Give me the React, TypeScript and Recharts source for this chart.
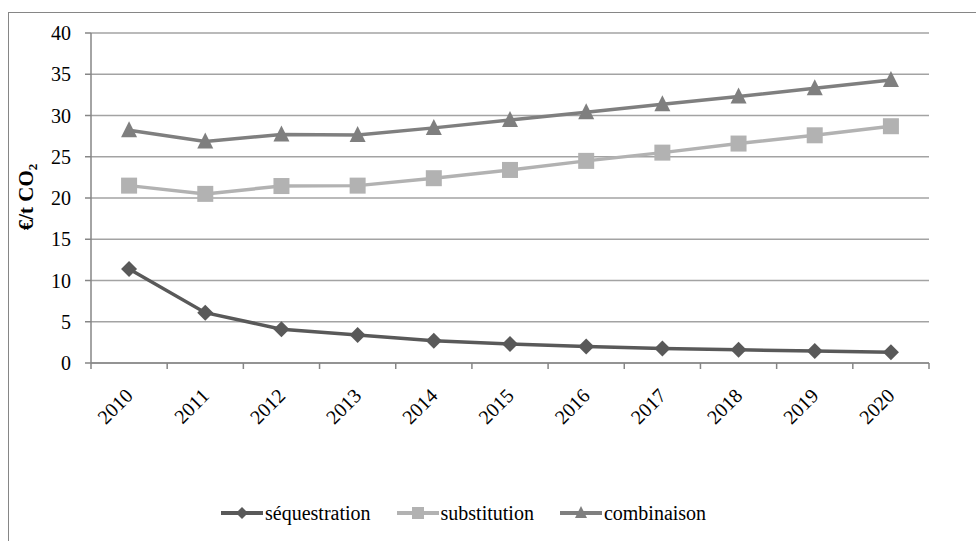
import React from 'react';
import { LineChart, Line, XAxis, YAxis, CartesianGrid } from 'recharts';

// values (€/t CO2)
const years = ['2010', '2011', '2012', '2013', '2014', '2015', '2016', '2017', '2018', '2019', '2020'];
const sequestration = [11.4, 6.1, 4.1, 3.4, 2.7, 2.3, 2.0, 1.75, 1.6, 1.45, 1.3];
const substitution = [21.5, 20.5, 21.45, 21.5, 22.4, 23.4, 24.5, 25.5, 26.6, 27.6, 28.7];
const combinaison = [28.2, 26.85, 27.7, 27.65, 28.5, 29.45, 30.4, 31.35, 32.3, 33.3, 34.3];
const yTicks = [0, 5, 10, 15, 20, 25, 30, 35, 40];

const FONT = '"Liberation Serif", "DejaVu Serif", "Times New Roman", serif';
const AXIS = '#868686';
const GRID = '#a3a3a3';

const W = 976;
const H = 541;
const margin = { top: 33, right: 47, left: 0, bottom: 118 };
const Y_AXIS_W = 91;
const PLOT_W = W - Y_AXIS_W - margin.right;
const BAND = PLOT_W / years.length;

const series = [
  { key: 'sequestration', name: 'séquestration', color: '#595959', shape: 'diamond' },
  { key: 'substitution', name: 'substitution', color: '#b2b2b2', shape: 'square' },
  { key: 'combinaison', name: 'combinaison', color: '#7f7f7f', shape: 'triangle' },
];

const data = years.map((year, i) => ({
  year,
  sequestration: sequestration[i],
  substitution: substitution[i],
  combinaison: combinaison[i],
}));

const Marker = ({ shape, cx, cy, size, color }: any) => {
  const r = size / 2;
  if (shape === 'diamond') {
    return <polygon points={`${cx},${cy - r} ${cx + r},${cy} ${cx},${cy + r} ${cx - r},${cy}`} fill={color} />;
  }
  if (shape === 'square') {
    return <rect x={cx - r} y={cy - r} width={size} height={size} fill={color} />;
  }
  return <polygon points={`${cx},${cy - r - 1} ${cx + r},${cy + r - 1} ${cx - r},${cy + r - 1}`} fill={color} />;
};

const makeDot = (shape: string, color: string, size: number) => (props: any) => {
  if (props.cx == null || props.cy == null) return <g key={props.index} />;
  return (
    <g key={`${shape}-${props.index}`}>
      <Marker shape={shape} cx={props.cx} cy={props.cy} size={size} color={color} />
    </g>
  );
};

const XTick = (props: any) => {
  const { x, y, payload, index } = props;
  const tx = x + 5;
  const ty = y + 34;
  return (
    <g>
      <line x1={x - BAND / 2} x2={x - BAND / 2} y1={y} y2={y + 6} stroke={AXIS} strokeWidth={1.5} />
      {index === years.length - 1 && (
        <line x1={x + BAND / 2} x2={x + BAND / 2} y1={y} y2={y + 6} stroke={AXIS} strokeWidth={1.5} />
      )}
      <text
        x={tx}
        y={ty}
        transform={`rotate(-45 ${tx} ${ty})`}
        textAnchor="end"
        fontSize={20}
        fontFamily={FONT}
        fill="#000"
      >
        {payload.value}
      </text>
    </g>
  );
};

const YLabel = () => (
  <text
    x={33}
    y={197}
    transform="rotate(-90 33 197)"
    textAnchor="middle"
    fontSize={21}
    fontWeight="bold"
    fontFamily={FONT}
    fill="#000"
  >
    €/t CO
    <tspan fontSize={13} dy={4}>
      2
    </tspan>
  </text>
);

const LegendRow = () => (
  <div
    style={{
      position: 'absolute',
      left: 221,
      top: 500,
      display: 'flex',
      fontFamily: FONT,
      fontSize: 20,
      color: '#000',
      whiteSpace: 'nowrap',
    }}
  >
    {series.map((s) => (
      <div key={s.key} style={{ display: 'flex', alignItems: 'center', marginRight: 26 }}>
        <svg width={43} height={26} style={{ marginRight: 1 }}>
          <line x1={0} x2={42} y1={13} y2={13} stroke={s.color} strokeWidth={4} />
          <Marker shape={s.shape} cx={21} cy={13} size={12} color={s.color} />
        </svg>
        <span style={{ lineHeight: '26px' }}>{s.name}</span>
      </div>
    ))}
  </div>
);

export default function App() {
  return (
    <div style={{ position: 'relative', width: W, height: H, overflow: 'hidden', background: '#fff', fontFamily: FONT }}>
      <style>{'body{margin:0;overflow:hidden}'}</style>
      <div
        style={{
          position: 'absolute',
          left: 8,
          top: 12,
          width: 1100,
          height: 700,
          border: `1px solid ${AXIS}`,
        }}
      />
      <div style={{ position: 'absolute', left: 0, top: 0 }}>
        <LineChart width={W} height={H} data={data} margin={margin}>
          <CartesianGrid vertical={false} stroke={GRID} strokeWidth={1.5} />
          <XAxis
            dataKey="year"
            height={60}
            stroke={AXIS}
            strokeWidth={1.5}
            tickLine={false}
            tickSize={0}
            tickMargin={0}
            interval={0}
            padding={{ left: BAND / 2, right: BAND / 2 }}
            tick={<XTick />}
          />
          <YAxis
            width={Y_AXIS_W}
            domain={[0, 40]}
            ticks={yTicks}
            interval={0}
            stroke={AXIS}
            strokeWidth={1.5}
            tickSize={6}
            tickMargin={14}
            tick={{ fontSize: 20, fill: '#000', fontFamily: FONT }}
            label={{ content: () => <YLabel /> }}
          />
          {series.map((s) => (
            <Line
              key={s.key}
              dataKey={s.key}
              name={s.name}
              stroke={s.color}
              strokeWidth={3.5}
              dot={makeDot(s.shape, s.color, 16)}
              activeDot={false}
              isAnimationActive={false}
            />
          ))}
        </LineChart>
      </div>
      <LegendRow />
    </div>
  );
}
